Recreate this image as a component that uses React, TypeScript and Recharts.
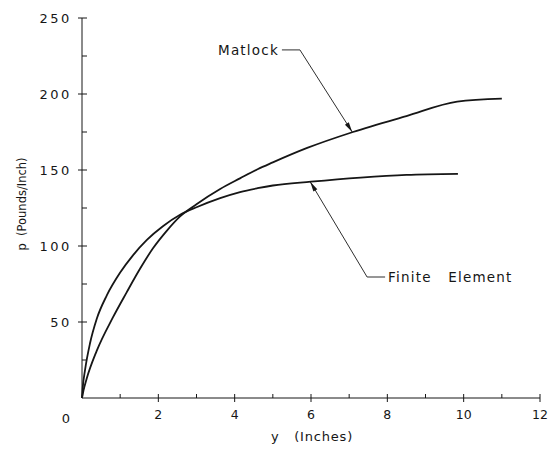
import React from "react";
import { LineChart, Line, XAxis, YAxis, ReferenceLine } from "recharts";

// deflection y (inches) and soil resistance p (pounds/inch)
const matlockY = [0, 0.04, 0.12, 0.385, 0.81, 1.17, 1.52, 1.86, 2.22, 2.57, 3.0, 3.62, 4.14, 4.6, 5.0, 5.9, 7.1, 8.5, 9.83, 11.0];
const matlockP = [0, 5, 12.5, 31, 53, 69.5, 85, 98.5, 110, 119.5, 127.5, 137.5, 144.5, 150.5, 155, 164.5, 175, 185.5, 195, 197];

const feY = [0, 0.02, 0.08, 0.21, 0.385, 0.65, 1.0, 1.34, 1.7, 2.12, 2.57, 3.0, 3.62, 4.14, 4.6, 5.0, 6.0, 7.3, 8.5, 9.85];
const feP = [0, 7, 18.5, 36, 52, 67.5, 82.5, 94, 104, 113, 120.5, 125.5, 131.5, 135.5, 138, 139.8, 142.3, 145, 146.8, 147.5];

const xTicks = [0, 1, 2, 3, 4, 5, 6, 7, 8, 9, 10, 11, 12];
const yTicks = [0, 25, 50, 75, 100, 125, 150, 175, 200, 225, 250];

const matlock = matlockY.map((y, i) => ({ y, p: matlockP[i] }));
const finiteElement = feY.map((y, i) => ({ y, p: feP[i] }));

const INK = "#161616";
const FONT = "'DejaVu Sans', sans-serif";

const XTick = ({ x, y, payload }: any) => {
  const v = payload.value;
  if (v === 0) {
    return (
      <text x={x - 16} y={y + 25} textAnchor="middle" fontFamily={FONT} fontSize={13} fill={INK}>
        0
      </text>
    );
  }
  const major = v % 2 === 0;
  return (
    <g>
      <line x1={x} x2={x} y1={y - 4} y2={major ? y + 4 : y} stroke={INK} strokeWidth={1} />
      {major && (
        <text x={x} y={y + 21} textAnchor="middle" fontFamily={FONT} fontSize={12.5} fill={INK}>
          {v}
        </text>
      )}
    </g>
  );
};

const YTick = ({ x, y, payload }: any) => {
  const v = payload.value;
  if (v === 0) return null;
  const major = v % 50 === 0;
  return (
    <g>
      <line x1={major ? x - 4 : x} x2={x + 5} y1={y} y2={y} stroke={INK} strokeWidth={1} />
      {major && (
        <text x={x - 10} y={y} dy="0.36em" textAnchor="end" fontFamily={FONT} fontSize={13} letterSpacing={2.6} fill={INK}>
          {v}
        </text>
      )}
    </g>
  );
};

// leader line with arrowhead at the curve, short dash and label at the other end
const leader = (label: string, side: "left" | "right") => (props: any) => {
  const { x1, y1, x2, y2 } = props;
  const a = Math.atan2(y2 - y1, x2 - x1);
  const len = 10;
  const half = 2.3;
  const bx = x2 - len * Math.cos(a);
  const by = y2 - len * Math.sin(a);
  const pts = `${x2},${y2} ${bx + half * Math.sin(a)},${by - half * Math.cos(a)} ${bx - half * Math.sin(a)},${by + half * Math.cos(a)}`;
  const dir = side === "left" ? -1 : 1;
  return (
    <g>
      <line x1={x1} y1={y1} x2={x2} y2={y2} stroke={INK} strokeWidth={0.9} />
      <polygon points={pts} fill={INK} />
      <line x1={x1} y1={y1} x2={x1 + dir * 18} y2={y1} stroke={INK} strokeWidth={0.9} />
      <text
        x={x1 + dir * 21}
        y={y1}
        dy="0.36em"
        textAnchor={side === "left" ? "end" : "start"}
        fontFamily={FONT}
        fontSize={13.5}
        letterSpacing={1.2}
        fill={INK}
        style={{ whiteSpace: "pre" }}
      >
        {label}
      </text>
    </g>
  );
};

export default function App() {
  return (
    <div style={{ position: "absolute", left: 0, top: 0, background: "#fff" }}>
      <LineChart width={549} height={450} margin={{ top: 18, right: 9, bottom: 0, left: 22 }}>
        <XAxis
          dataKey="y"
          type="number"
          domain={[0, 12]}
          ticks={xTicks}
          interval={0}
          height={52}
          tickSize={0}
          tickMargin={0}
          tickLine={false}
          axisLine={{ stroke: INK, strokeWidth: 1 }}
          tick={<XTick />}
          label={{
            content: (p: any) => (
              <text
                x={312}
                y={p.viewBox.y + 43}
                textAnchor="middle"
                fontFamily={FONT}
                fontSize={13}
                letterSpacing={0.8}
                fill={INK}
                style={{ whiteSpace: "pre" }}
              >
                {"y   (Inches)"}
              </text>
            ),
          }}
        />
        <YAxis
          type="number"
          domain={[0, 250]}
          ticks={yTicks}
          interval={0}
          width={60}
          tickSize={0}
          tickMargin={0}
          tickLine={false}
          axisLine={{ stroke: INK, strokeWidth: 1 }}
          tick={<YTick />}
          label={{
            content: (p: any) => {
              const cx = p.viewBox.x;
              const cy = p.viewBox.y + 186;
              return (
                <text
                  x={cx}
                  y={cy}
                  dy="0.36em"
                  textAnchor="middle"
                  transform={`rotate(-90 ${cx} ${cy})`}
                  fontFamily={FONT}
                  fontSize={11.5}
                  fill={INK}
                  style={{ whiteSpace: "pre" }}
                >
                  {"p  (Pounds/Inch)"}
                </text>
              );
            },
          }}
        />
        <Line
          data={matlock}
          dataKey="p"
          type="monotone"
          stroke={INK}
          strokeWidth={1.8}
          dot={false}
          activeDot={false}
          isAnimationActive={false}
        />
        <Line
          data={finiteElement}
          dataKey="p"
          type="monotone"
          stroke={INK}
          strokeWidth={1.8}
          dot={false}
          activeDot={false}
          isAnimationActive={false}
        />
        <ReferenceLine
          segment={[
            { x: 5.71, y: 229 },
            { x: 7.08, y: 175 },
          ]}
          ifOverflow="visible"
          shape={leader("Matlock", "left")}
        />
        <ReferenceLine
          segment={[
            { x: 7.47, y: 79.6 },
            { x: 5.98, y: 142.2 },
          ]}
          ifOverflow="visible"
          shape={leader("Finite   Element", "right")}
        />
      </LineChart>
    </div>
  );
}
